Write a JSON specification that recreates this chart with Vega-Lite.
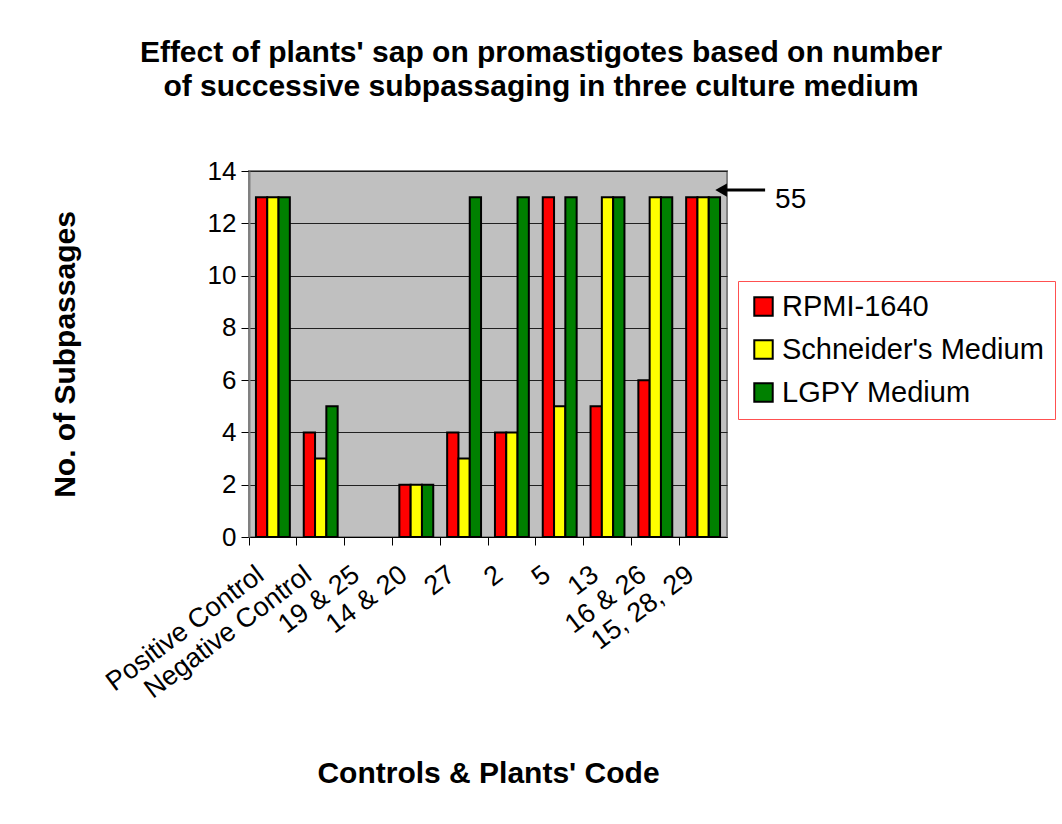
{
  "$schema": "https://vega.github.io/schema/vega-lite/v6.json",
  "width": 478,
  "height": 366,
  "autosize": {"type": "none"},
  "padding": {"left": 249, "top": 171, "right": 335, "bottom": 287},
  "background": "white",
  "title": {
    "text": ["Effect of plants' sap on promastigotes based on number", "of successive subpassaging in three culture medium"],
    "font": "Liberation Sans",
    "fontSize": 30,
    "fontWeight": "bold",
    "color": "black",
    "anchor": "middle",
    "dx": 53,
    "lineHeight": 34,
    "offset": 56
  },
  "config": {
    "font": "Liberation Sans",
    "view": {"fill": "#C0C0C0", "stroke": "#808080", "strokeWidth": 2}
  },
  "datasets": {
    "bars": [
      {"code": "Positive Control", "medium": "RPMI-1640", "value": 13},
      {"code": "Positive Control", "medium": "Schneider's Medium", "value": 13},
      {"code": "Positive Control", "medium": "LGPY Medium", "value": 13},
      {"code": "Negative Control", "medium": "RPMI-1640", "value": 4},
      {"code": "Negative Control", "medium": "Schneider's Medium", "value": 3},
      {"code": "Negative Control", "medium": "LGPY Medium", "value": 5},
      {"code": "19 & 25", "medium": "RPMI-1640", "value": 0},
      {"code": "19 & 25", "medium": "Schneider's Medium", "value": 0},
      {"code": "19 & 25", "medium": "LGPY Medium", "value": 0},
      {"code": "14 & 20", "medium": "RPMI-1640", "value": 2},
      {"code": "14 & 20", "medium": "Schneider's Medium", "value": 2},
      {"code": "14 & 20", "medium": "LGPY Medium", "value": 2},
      {"code": "27", "medium": "RPMI-1640", "value": 4},
      {"code": "27", "medium": "Schneider's Medium", "value": 3},
      {"code": "27", "medium": "LGPY Medium", "value": 13},
      {"code": "2", "medium": "RPMI-1640", "value": 4},
      {"code": "2", "medium": "Schneider's Medium", "value": 4},
      {"code": "2", "medium": "LGPY Medium", "value": 13},
      {"code": "5", "medium": "RPMI-1640", "value": 13},
      {"code": "5", "medium": "Schneider's Medium", "value": 5},
      {"code": "5", "medium": "LGPY Medium", "value": 13},
      {"code": "13", "medium": "RPMI-1640", "value": 5},
      {"code": "13", "medium": "Schneider's Medium", "value": 13},
      {"code": "13", "medium": "LGPY Medium", "value": 13},
      {"code": "16 & 26", "medium": "RPMI-1640", "value": 6},
      {"code": "16 & 26", "medium": "Schneider's Medium", "value": 13},
      {"code": "16 & 26", "medium": "LGPY Medium", "value": 13},
      {"code": "15, 28, 29", "medium": "RPMI-1640", "value": 13},
      {"code": "15, 28, 29", "medium": "Schneider's Medium", "value": 13},
      {"code": "15, 28, 29", "medium": "LGPY Medium", "value": 13}
    ],
    "note": [
      {"code": "15, 28, 29", "value": 13.27, "label": "55"}
    ]
  },
  "layer": [
    {
      "data": {"name": "bars"},
      "mark": {"type": "bar", "stroke": "black", "strokeWidth": 2},
      "encoding": {
        "x": {
          "field": "code",
          "type": "nominal",
          "sort": ["Positive Control", "Negative Control", "19 & 25", "14 & 20", "27", "2", "5", "13", "16 & 26", "15, 28, 29"],
          "scale": {"paddingInner": 0, "paddingOuter": 0},
          "axis": {
            "title": "Controls & Plants' Code",
            "titleFont": "Liberation Sans",
            "titleFontSize": 30,
            "titleFontWeight": "bold",
            "titleColor": "black",
            "titleY": 236,
            "titleBaseline": "middle",
            "bandPosition": 0,
            "labelAngle": -37,
            "labelAlign": "right",
            "labelBaseline": "top",
            "labelFontSize": 27,
            "labelColor": "black",
            "labelPadding": 16,
            "labelOffset": -20,
            "labelOverlap": false,
            "labelLimit": 400,
            "tickColor": "black",
            "tickSize": 8,
            "tickWidth": 1,
            "domainColor": "black",
            "domainWidth": 1
          }
        },
        "xOffset": {
          "field": "medium",
          "type": "nominal",
          "sort": ["RPMI-1640", "Schneider's Medium", "LGPY Medium"],
          "scale": {"paddingInner": 0, "paddingOuter": 0.615}
        },
        "y": {
          "field": "value",
          "type": "quantitative",
          "scale": {"domain": [0, 14]},
          "axis": {
            "title": "No. of Subpassages",
            "titleFont": "Liberation Sans",
            "titleFontSize": 30,
            "titleFontWeight": "bold",
            "titleColor": "black",
            "titleX": -184,
            "titleY": 183,
            "titleAngle": -90,
            "titleAlign": "center",
            "titleBaseline": "middle",
            "values": [0, 2, 4, 6, 8, 10, 12, 14],
            "labelFontSize": 26,
            "labelColor": "black",
            "labelPadding": 5,
            "tickColor": "black",
            "tickSize": 8,
            "tickWidth": 1,
            "domainColor": "#808080",
            "domainWidth": 2,
            "grid": true,
            "gridColor": "#202020",
            "gridWidth": 1
          }
        },
        "strokeOpacity": {
          "condition": {"test": "datum.value <= 0", "value": 0},
          "value": 1
        },
        "color": {
          "field": "medium",
          "type": "nominal",
          "sort": ["RPMI-1640", "Schneider's Medium", "LGPY Medium"],
          "scale": {"domain": ["RPMI-1640", "Schneider's Medium", "LGPY Medium"], "range": ["#FF0000", "#FFFF00", "#008000"]},
          "legend": {
            "title": null,
            "orient": "none",
            "legendX": 489,
            "legendY": 110,
            "strokeColor": "#FF5050",
            "fillColor": "white",
            "padding": 11,
            "symbolOffset": 0,
            "symbolType": "square",
            "symbolSize": 340,
            "symbolStrokeColor": "black",
            "symbolStrokeWidth": 2,
            "symbolOpacity": 1,
            "labelFontSize": 29,
            "labelColor": "black",
            "labelOffset": 4,
            "labelLimit": 400,
            "rowPadding": 13
          }
        }
      }
    },
    {
      "data": {"name": "note"},
      "mark": {"type": "rule", "color": "black", "strokeWidth": 3, "xOffset": 20, "x2Offset": 62},
      "encoding": {
        "x": {"field": "code", "type": "nominal", "sort": ["Positive Control", "Negative Control", "19 & 25", "14 & 20", "27", "2", "5", "13", "16 & 26", "15, 28, 29"]},
        "x2": {"field": "code"},
        "y": {"field": "value", "type": "quantitative"}
      }
    },
    {
      "data": {"name": "note"},
      "mark": {"type": "point", "shape": "triangle-left", "filled": true, "color": "black", "size": 180, "opacity": 1, "xOffset": 18},
      "encoding": {
        "x": {"field": "code", "type": "nominal", "sort": ["Positive Control", "Negative Control", "19 & 25", "14 & 20", "27", "2", "5", "13", "16 & 26", "15, 28, 29"]},
        "y": {"field": "value", "type": "quantitative"}
      }
    },
    {
      "data": {"name": "note"},
      "mark": {"type": "text", "align": "left", "baseline": "middle", "fontSize": 28, "color": "black", "dx": 72, "dy": 10},
      "encoding": {
        "x": {"field": "code", "type": "nominal", "sort": ["Positive Control", "Negative Control", "19 & 25", "14 & 20", "27", "2", "5", "13", "16 & 26", "15, 28, 29"]},
        "y": {"field": "value", "type": "quantitative"},
        "text": {"field": "label"}
      }
    }
  ]
}
